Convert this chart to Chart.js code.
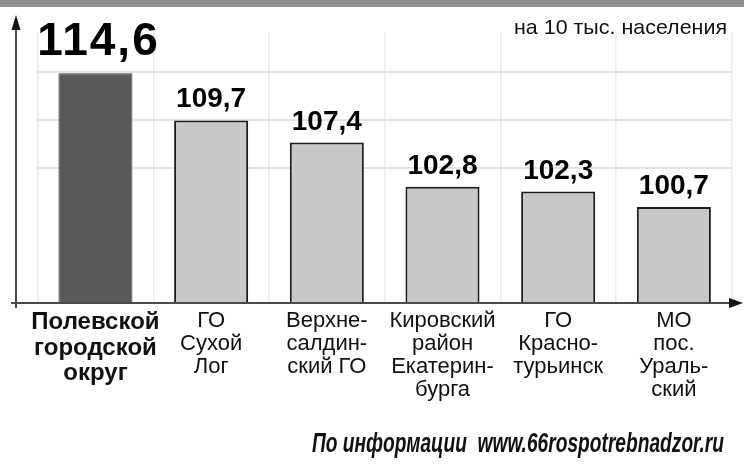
<!DOCTYPE html>
<html>
<head>
<meta charset="utf-8">
<script src="https://cdn.jsdelivr.net/npm/chart.js@4"></script>
<style>
    html, body { margin: 0; padding: 0; background: #fff; }
    #wrap { width: 744px; height: 468px; position: relative; }
</style>
</head>
<body>
<div id="wrap"><canvas id="chart" width="744" height="468"></canvas></div>
<script>
// data
const categories = [
    ['Полевской', 'городской', 'округ'],
    ['ГО', 'Сухой', 'Лог'],
    ['Верхне-', 'салдин-', 'ский ГО'],
    ['Кировский', 'район', 'Екатерин-', 'бурга'],
    ['ГО', 'Красно-', 'турьинск'],
    ['МО', 'пос.', 'Ураль-', 'ский']
];
const values = [114.6, 109.7, 107.4, 102.8, 102.3, 100.7];
const gridValues = [104.8, 109.7, 114.7];
const unitNote = 'на 10 тыс. населения';
const sourceNote = 'По информации  www.66rospotrebnadzor.ru';

const FONT = '"Liberation Sans", Arial, Helvetica, sans-serif';
const barColors = values.map((v, i) => i === 0 ? '#58595b' : '#c7c8ca');
const barBorders = values.map((v, i) => i === 0 ? '#404143' : '#1c1c1c');
const barBorderWidths = values.map((v, i) => i === 0 ? 1 : 2);

function fmt(v) {
    return v.toFixed(1).replace('.', ',');
}

// draw text squeezed/stretched into a given width
function fitText(ctx, text, right, baseline, width) {
    const w = ctx.measureText(text).width;
    const k = width / w;
    ctx.save();
    ctx.translate(right - width, baseline);
    ctx.scale(k, 1);
    ctx.textAlign = 'left';
    ctx.textBaseline = 'alphabetic';
    ctx.fillText(text, 0, 0);
    ctx.restore();
}

const decor = {
    id: 'decor',
    beforeDraw(chart) {
        const ctx = chart.ctx;
        ctx.save();
        ctx.fillStyle = '#fff';
        ctx.fillRect(0, 0, chart.width, chart.height);
        // cut-off header band
        ctx.fillStyle = '#8f9092';
        ctx.fillRect(0, 0, chart.width, 7);
        ctx.restore();
    },
    afterDatasetsDraw(chart) {
        const ctx = chart.ctx;
        const area = chart.chartArea;
        const base = area.bottom;
        ctx.save();

        // y axis with arrow
        ctx.strokeStyle = '#111';
        ctx.fillStyle = '#111';
        ctx.lineWidth = 1.5;
        ctx.beginPath();
        ctx.moveTo(16, 308);
        ctx.lineTo(16, 24);
        ctx.stroke();
        ctx.beginPath();
        ctx.moveTo(16, 15);
        ctx.lineTo(11.5, 30);
        ctx.lineTo(20.5, 30);
        ctx.closePath();
        ctx.fill();

        // x axis with arrow
        ctx.strokeStyle = '#4a4a4a';
        ctx.lineWidth = 2;
        ctx.beginPath();
        ctx.moveTo(11, base);
        ctx.lineTo(734, base);
        ctx.stroke();
        ctx.fillStyle = '#111';
        ctx.beginPath();
        ctx.moveTo(743, base);
        ctx.lineTo(729, base - 5);
        ctx.lineTo(729, base + 5);
        ctx.closePath();
        ctx.fill();

        // value labels above bars
        const meta = chart.getDatasetMeta(0);
        ctx.fillStyle = '#000';
        ctx.textAlign = 'center';
        ctx.textBaseline = 'alphabetic';
        meta.data.forEach((bar, i) => {
            if (i === 0) {
                ctx.font = 'bold 46px ' + FONT;
                ctx.letterSpacing = '2px';
                ctx.fillText(fmt(values[i]), bar.x + 3, bar.y - 18);
                ctx.letterSpacing = '0px';
            } else {
                ctx.font = 'bold 28px ' + FONT;
                ctx.fillText(fmt(values[i]), bar.x, bar.y - 13);
            }
        });

        // unit note, top right
        ctx.fillStyle = '#111';
        ctx.font = '21px ' + FONT;
        fitText(ctx, unitNote, 727, 34, 213);

        // source note, bottom right
        ctx.font = 'italic bold 27px ' + FONT;
        fitText(ctx, sourceNote, 724, 452, 412);

        ctx.restore();
    }
};

new Chart(document.getElementById('chart'), {
    type: 'bar',
    data: {
        labels: categories,
        datasets: [{
            data: values,
            backgroundColor: barColors,
            borderColor: barBorders,
            borderWidth: barBorderWidths,
            borderSkipped: 'start',
            categoryPercentage: 1,
            barPercentage: 0.64
        }]
    },
    options: {
        responsive: false,
        animation: false,
        devicePixelRatio: 1,
        layout: {
            padding: { left: 37.6, right: 12.3, top: 32, bottom: 0 }
        },
        plugins: {
            legend: { display: false },
            tooltip: { enabled: false },
            title: { display: false }
        },
        scales: {
            x: {
                afterFit: s => { s.height = 165; },
                border: { display: false },
                grid: {
                    offset: true,
                    drawTicks: false,
                    color: '#ececec',
                    lineWidth: 1.5
                },
                ticks: {
                    padding: 6,
                    color: '#111',
                    maxRotation: 0,
                    autoSkip: false,
                    font: ctx => ctx.index === 0
                        ? { family: FONT, size: 24, weight: 'bold', lineHeight: 1.08 }
                        : { family: FONT, size: 22, lineHeight: 1.05 }
                }
            },
            y: {
                min: 90.7,
                max: 118.9,
                afterFit: s => { s.width = 0; },
                afterBuildTicks: s => { s.ticks = gridValues.map(v => ({ value: v })); },
                border: { display: false },
                grid: {
                    drawTicks: false,
                    color: '#e3e3e3',
                    lineWidth: 2
                },
                ticks: { display: false }
            }
        }
    },
    plugins: [decor]
});
</script>
</body>
</html>
